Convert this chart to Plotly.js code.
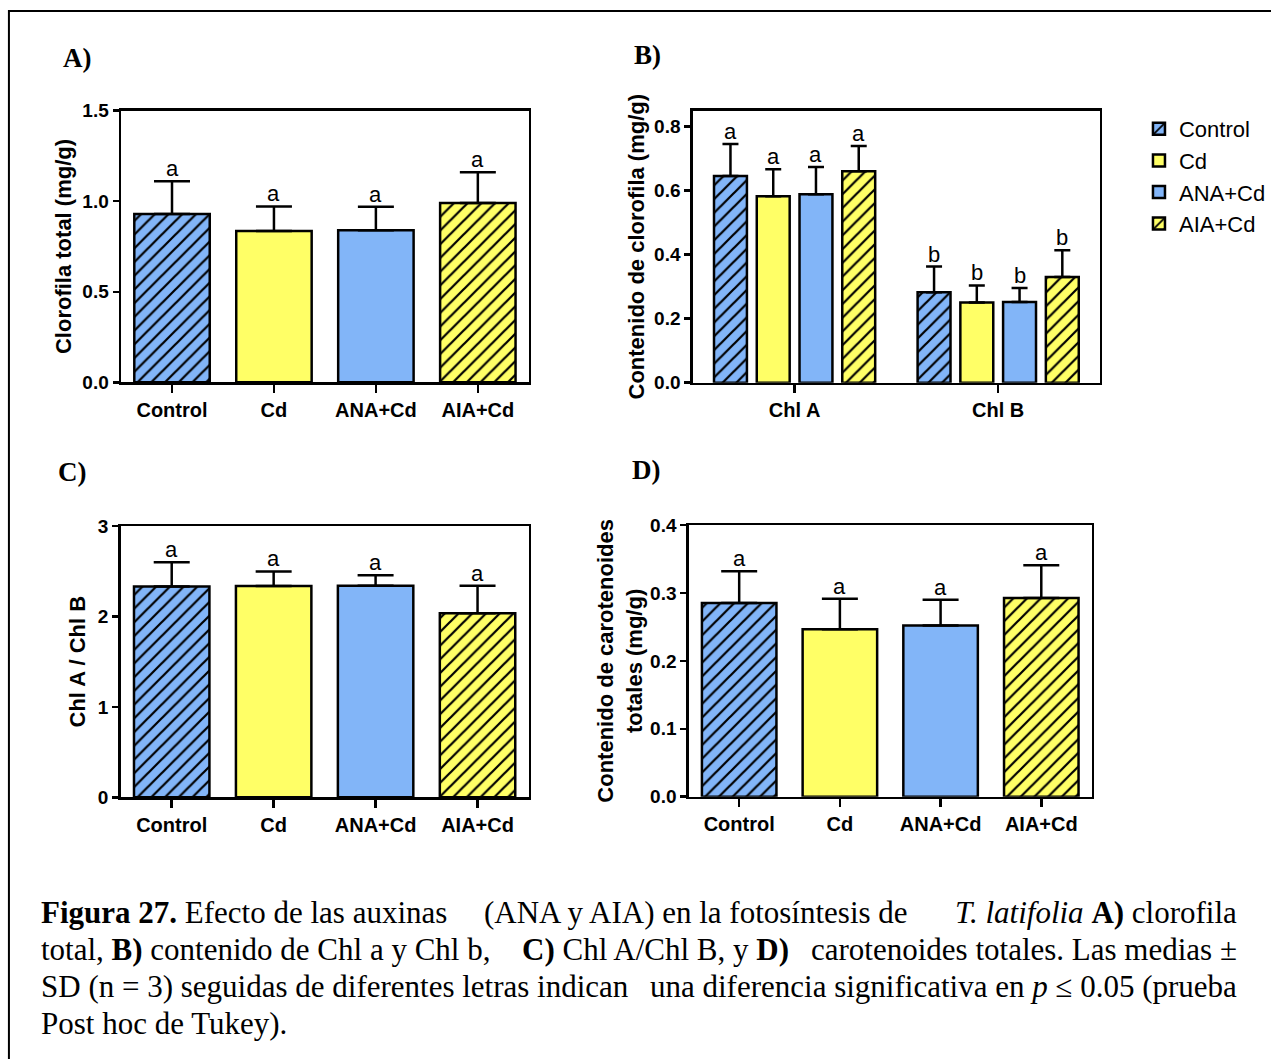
<!DOCTYPE html>
<html><head><meta charset="utf-8">
<script src="https://cdn.plot.ly/plotly-3.0.1.min.js"></script>
<style>html,body{margin:0;padding:0;background:#fff;} #chart{width:1271px;height:1059px;}</style>
</head><body><div id="chart"></div>
<script>
// ---------- DATA ----------
const treatments = ['Control', 'Cd', 'ANA+Cd', 'AIA+Cd'];

// A) Clorofila total (mg/g)
const chlTotal = [0.93, 0.835, 0.84, 0.99];
const chlTotalSD = [0.18, 0.136, 0.13, 0.17];
const chlTotalLetters = ['a', 'a', 'a', 'a'];

// B) Contenido de clorofila (mg/g)
const chlGroups = ['Chl A', 'Chl B'];
const chlControl = [0.646, 0.283];
const chlControlSD = [0.100, 0.080];
const chlCd = [0.583, 0.251];
const chlCdSD = [0.084, 0.053];
const chlANA = [0.589, 0.252];
const chlANASD = [0.085, 0.044];
const chlAIA = [0.661, 0.330];
const chlAIASD = [0.079, 0.084];
const chlLetters = ['a', 'b'];

// C) Chl A / Chl B
const ratio = [2.33, 2.337, 2.34, 2.035];
const ratioSD = [0.27, 0.16, 0.115, 0.305];
const ratioLetters = ['a', 'a', 'a', 'a'];

// D) Carotenoides totales (mg/g)
const carot = [0.285, 0.2465, 0.252, 0.2926];
const carotSD = [0.047, 0.045, 0.038, 0.048];
const carotLetters = ['a', 'a', 'a', 'a'];

// ---------- STYLE ----------
const W = 1271, H = 1059;
const px = x => x / W;
const py = y => 1 - y / H;
const BLUE = '#82B5F8', YELLOW = '#FFFF66';
const barColors = [BLUE, YELLOW, BLUE, YELLOW];
const barShapes = ['/', '', '', '/'];
const SANS = 'Liberation Sans, Arial, sans-serif';
const SERIF = 'Liberation Serif, Times New Roman, serif';
const PAT_SIZE = 9.7, PAT_SOL = 0.23;
const BARGAP = 0.16, BARGROUPGAP = 0.23;

function barMarker(i) {
  return {color: barColors[i], line: {color: '#000', width: 2.5},
    pattern: {shape: barShapes[i], fgcolor: '#000', bgcolor: barColors[i],
      fillmode: 'replace', size: PAT_SIZE, solidity: PAT_SOL}};
}

const traces = [];
// one trace per bar, all sharing one offsetgroup, so the pattern colours are scalar
function panelBars(xa, ya, vals, sd, capHalf, grp) {
  treatments.forEach((t, i) => traces.push({
    type: 'bar', name: t, x: [t], y: [vals[i]], xaxis: xa, yaxis: ya, width: 0.74,
    offsetgroup: grp, showlegend: false, hoverinfo: 'skip', marker: barMarker(i),
    error_y: {type: 'data', symmetric: false, array: [sd[i]], arrayminus: [0],
      color: '#000', thickness: 2.5, width: capHalf}
  }));
}

panelBars('x', 'y', chlTotal, chlTotalSD, 18, 'A');
const chlSeries = [chlControl, chlCd, chlANA, chlAIA];
const chlSeriesSD = [chlControlSD, chlCdSD, chlANASD, chlAIASD];
treatments.forEach((t, i) => {
  traces.push({
    type: 'bar', name: t, x: chlGroups, y: chlSeries[i], xaxis: 'x2', yaxis: 'y2',
    legendgroup: t, hoverinfo: 'skip', marker: barMarker(i),
    error_y: {type: 'data', symmetric: false, array: chlSeriesSD[i],
      arrayminus: chlSeriesSD[i].map(() => 0), color: '#000', thickness: 2.5, width: 8}
  });
});
panelBars('x3', 'y3', ratio, ratioSD, 18, 'C');
panelBars('x4', 'y4', carot, carotSD, 18, 'D');

const tickFontX = {family: SANS, size: 20, color: '#000', weight: 700};
const tickFontY = {family: SANS, size: 19, color: '#000', weight: 700};
const titleFont = {family: SANS, size: 22, color: '#000', weight: 700};

function xAxis(domain, anchor, range, cats) {
  return {domain, anchor, type: 'category', categoryorder: 'array', categoryarray: cats,
    range, showline: true, linewidth: 2.5,
    linecolor: '#000', mirror: true, ticks: 'outside', ticklen: 8, tickwidth: 2.5,
    tickcolor: '#000', tickfont: tickFontX, showgrid: false, zeroline: false,
    automargin: false, fixedrange: true};
}
function yAxis(domain, anchor, range, dtick, fmt, title, standoff) {
  return {domain, anchor, range, dtick, tick0: 0, tickformat: fmt, showline: true,
    linewidth: 2.5, linecolor: '#000', mirror: true, ticks: 'outside', ticklen: 6,
    tickwidth: 2.5, tickcolor: '#000', tickfont: tickFontY, showgrid: false,
    zeroline: false, automargin: false, fixedrange: true,
    title: {text: title, font: titleFont, standoff}};
}

const annotations = [];
function letterAnn(xref, yref, xs, vals, sd, letters) {
  xs.forEach((x, i) => annotations.push({xref, yref, x, y: vals[i] + sd[i], text: letters[i],
    showarrow: false, yanchor: 'bottom', yshift: -2, font: {family: SANS, size: 22, color: '#000'}}));
}
letterAnn('x', 'y', treatments, chlTotal, chlTotalSD, chlTotalLetters);
const slot = (1 - BARGAP) / treatments.length;
chlSeries.forEach((s, i) => {
  const xs = chlGroups.map((g, gi) => gi + (i - (treatments.length - 1) / 2) * slot);
  letterAnn('x2', 'y2', xs, s, chlSeriesSD[i], chlLetters);
});
letterAnn('x3', 'y3', treatments, ratio, ratioSD, ratioLetters);
letterAnn('x4', 'y4', treatments, carot, carotSD, carotLetters);

// panel labels
[['A)', 78, 58], ['B)', 653, 55], ['C)', 73, 472], ['D)', 652, 470]].forEach(p => {
  annotations.push({xref: 'paper', yref: 'paper', x: px(p[1]), y: py(p[2]), text: '<b>' + p[0] + '</b>',
    showarrow: false, xanchor: 'center', yanchor: 'middle',
    font: {family: SERIF, size: 27, color: '#000'}});
});

// caption
const capFont = {family: SERIF, size: 31, color: '#000'};
const captionSegs = [
  ['<b>Figura 27.</b> Efecto de las auxinas', 'left', 40, 912],
  ['(ANA y AIA) en la fotosíntesis de', 'center', 702, 912],
  ['<i>T. latifolia</i> <b>A)</b> clorofila', 'right', 1248, 912],
  ['total, <b>B)</b> contenido de Chl a y Chl b,', 'left', 40, 949],
  ['<b>C)</b> Chl A/Chl B, y <b>D)</b>', 'center', 661, 949],
  ['carotenoides totales. Las medias ±', 'right', 1248, 949],
  ['SD (n = 3) seguidas de diferentes letras indican', 'left', 40, 986],
  ['una diferencia significativa en <i>p</i> ≤ 0.05 (prueba', 'right', 1248, 986],
  ['Post hoc de Tukey).', 'left', 40, 1023]
];
captionSegs.forEach(s => annotations.push({xref: 'paper', yref: 'paper', x: px(s[2]), y: py(s[3]),
  text: s[0], showarrow: false, xanchor: s[1], yanchor: 'middle', borderpad: 0, font: capFont}));

const layout = {
  width: W, height: H, margin: {l: 0, r: 0, t: 0, b: 0},
  paper_bgcolor: '#fff', plot_bgcolor: '#fff',
  barmode: 'group', bargap: BARGAP, bargroupgap: BARGROUPGAP,
  showlegend: true,
  legend: {x: px(1148), y: py(108), xanchor: 'left', yanchor: 'top',
    font: {family: SANS, size: 22, color: '#000'}, tracegroupgap: 0,
    bgcolor: 'rgba(0,0,0,0)', itemclick: false, itemdoubleclick: false},
  xaxis: xAxis([px(122), px(533)], 'y', [-0.5, 3.5], treatments),
  yaxis: yAxis([py(382.3), py(110.7)], 'x', [0, 1.5], 0.5, '.1f', 'Clorofila total (mg/g)', 5),
  xaxis2: xAxis([px(698.3), px(1108.7)], 'y2', [-0.5, 1.5], chlGroups),
  yaxis2: yAxis([py(382.7), py(110.7)], 'x2', [0, 0.85], 0.2, '.1f', 'Contenido de clorofila (mg/g)', 4),
  xaxis3: xAxis([px(121.7), px(532.7)], 'y3', [-0.5, 3.5], treatments),
  yaxis3: yAxis([py(797.3), py(526)], 'x3', [0, 3], 1, 'd', 'Chl A / Chl B', 6),
  xaxis4: xAxis([px(694.3), px(1100.3)], 'y4', [-0.5, 3.5], treatments),
  yaxis4: yAxis([py(796.7), py(525)], 'x4', [0, 0.4], 0.1, '.1f', 'Contenido de carotenoides<br>totales (mg/g)', 2),
  annotations,
  shapes: [{type: 'rect', xref: 'paper', yref: 'paper', x0: px(9), x1: px(1300), y0: py(1090), y1: py(11),
    line: {color: '#000', width: 2}, fillcolor: 'rgba(0,0,0,0)'}]
};

Plotly.newPlot('chart', traces, layout, {displayModeBar: false, staticPlot: true});
</script>
</body></html>
